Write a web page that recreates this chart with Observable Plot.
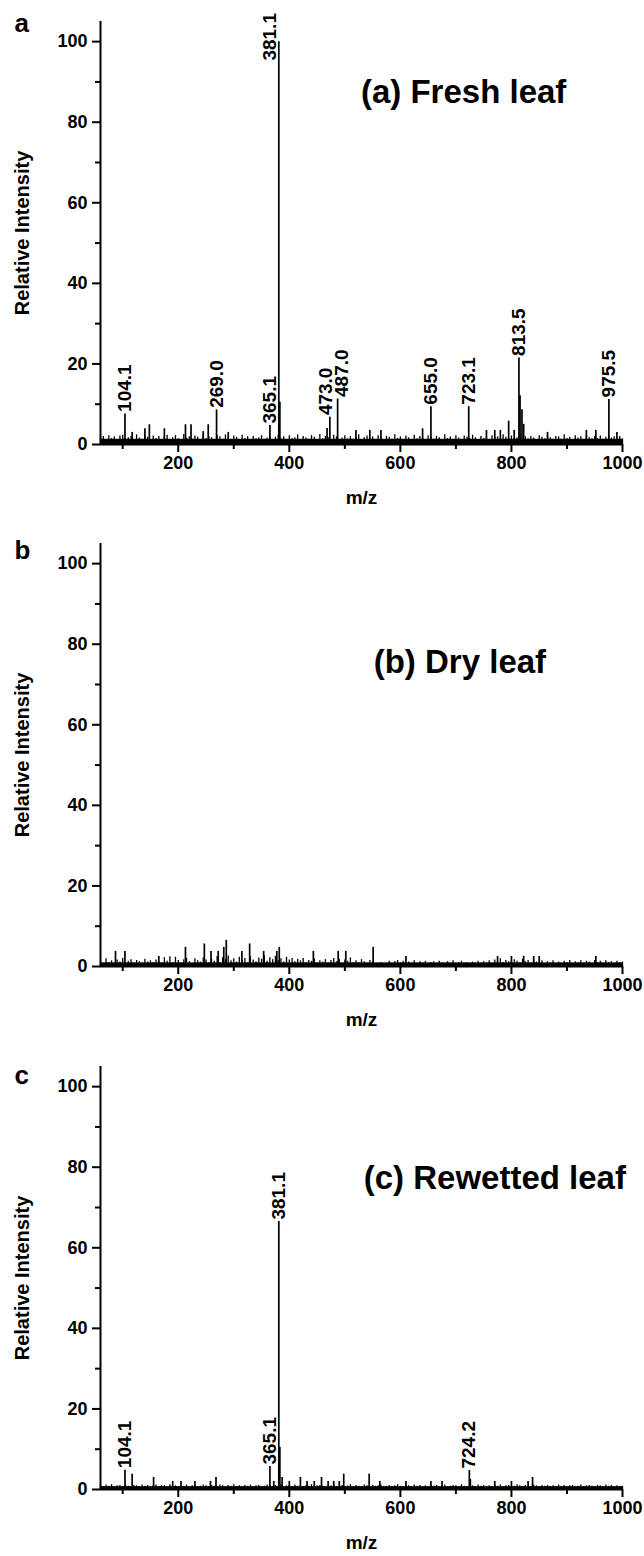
<!DOCTYPE html>
<html><head><meta charset="utf-8">
<script src="https://cdn.jsdelivr.net/npm/d3@7"></script>
<script src="https://cdn.jsdelivr.net/npm/@observablehq/plot@0.6"></script>
<style>
body{margin:0;background:#fff;}
#chart{width:644px;}
#chart svg{display:block;}
</style></head><body><div id="chart"></div>
<script>
const panelLetters = ["a", "b", "c"];
const panelTitles = ["(a) Fresh leaf", "(b) Dry leaf", "(c) Rewetted leaf"];
const xTicks = [200, 400, 600, 800, 1000];
const xMinorTicks = [100, 300, 500, 700, 900];
const yTicks = [0, 20, 40, 60, 80, 100];
const yMinorTicks = [10, 30, 50, 70, 90];

// baseline noise: m/z 60..1000, one value every 5 m/z
const noiseStart = 60, noiseStep = 5;
const noiseA = [
1.8,2.0,1.2,2.2,1.5,1.9,1.0,2.1,2.3,1.4,1.7,2.0,1.1,2.4,1.6,1.3,2.2,1.8,1.0,2.1,
1.5,2.0,1.2,1.9,2.3,1.1,1.7,2.2,1.4,1.0,2.5,1.6,1.9,1.3,2.1,1.8,1.2,2.4,1.5,2.0,
1.7,1.1,2.2,1.9,1.3,2.4,1.6,1.0,2.1,1.8,1.2,2.3,1.5,1.9,1.1,2.0,1.4,1.7,2.2,1.3,
1.6,2.1,1.0,1.8,2.3,1.4,1.9,1.2,2.2,1.5,1.7,2.4,1.1,2.0,1.6,1.3,2.2,1.8,1.0,2.5,
1.4,2.0,1.7,1.2,2.3,1.9,1.1,1.6,2.2,1.4,2.0,1.3,1.8,2.4,1.0,1.7,2.1,1.5,1.9,1.2,
2.2,1.6,1.1,2.0,1.8,1.3,2.4,1.5,1.9,1.0,2.1,1.7,1.2,2.3,1.4,2.0,1.6,1.1,2.2,1.8,
1.3,2.0,1.7,1.1,2.4,1.5,1.9,1.2,2.2,1.6,1.0,2.1,1.8,1.4,2.3,1.7,1.2,2.0,1.5,1.9,
1.1,2.2,1.6,1.9,1.3,2.4,1.8,1.0,2.1,1.5,1.7,2.3,1.2,1.9,1.4,2.0,1.6,1.1,2.2,1.8,
1.4,2.1,1.7,1.2,2.0,1.9,1.3,2.4,1.5,1.8,1.0,2.2,1.6,1.9,1.2,2.3,1.7,1.4,2.0,1.5,
2.1,1.3,1.8,2.2,1.6,1.9,1.2,2.0,1.4];
const noiseB = [
1.2,0.8,1.9,1.0,1.4,0.9,1.6,1.1,2.0,0.8,1.3,1.7,0.9,1.5,1.2,0.8,1.8,1.1,1.4,1.0,
1.6,1.2,0.9,2.2,1.3,2.4,1.0,2.3,1.5,0.9,1.7,2.0,1.2,0.8,1.9,1.4,1.1,2.1,1.6,0.9,
1.8,1.3,2.5,1.0,2.2,1.7,2.6,1.4,1.9,1.1,2.3,1.5,2.0,0.9,2.4,1.6,1.2,2.1,1.8,2.6,
1.3,2.2,1.7,2.5,1.4,1.9,1.1,2.3,1.6,2.0,1.2,1.8,1.4,2.0,1.0,1.5,1.3,1.9,0.9,1.4,
1.1,1.7,0.9,1.5,2.0,1.2,1.8,0.8,1.6,1.3,2.1,1.0,1.4,0.9,1.7,1.2,0.8,1.5,1.1,0.7,
0.6,1.0,0.5,0.8,1.3,0.7,1.2,1.5,0.9,1.3,0.6,1.1,0.8,1.4,0.7,1.2,0.9,1.3,0.6,1.0,
1.2,0.7,1.3,0.9,0.6,1.2,0.8,1.4,0.7,1.0,1.3,0.6,0.9,0.5,1.1,0.8,1.3,0.7,1.2,0.9,
1.4,0.8,1.6,1.1,1.9,1.0,1.5,1.2,0.9,1.7,1.3,1.0,1.8,1.2,1.5,0.9,1.6,1.1,0.8,1.4,
0.7,1.2,0.9,1.4,0.6,1.1,0.8,1.3,1.0,1.5,0.7,1.2,0.9,1.4,0.8,1.3,1.1,0.7,1.5,1.0,
1.3,0.8,1.4,1.0,1.2,0.7,1.3,0.9,1.1];
const noiseC = [
1.0,0.7,1.1,0.8,1.2,0.6,0.9,1.0,0.7,1.1,0.8,0.6,1.0,0.9,0.7,1.1,0.8,1.0,0.6,0.9,
1.1,0.7,0.9,1.0,0.6,1.2,0.8,0.9,0.7,1.0,0.8,1.1,0.6,0.9,1.0,0.7,0.8,1.1,0.9,0.6,
1.0,0.8,0.7,1.1,0.9,0.6,1.0,0.8,1.2,0.7,0.9,0.6,1.0,0.8,1.1,0.7,0.9,1.0,0.6,0.8,
1.1,0.9,0.7,1.0,0.8,1.2,0.6,0.9,1.0,0.7,1.1,0.8,0.9,0.6,1.0,0.8,1.2,0.7,0.9,1.0,
0.8,0.6,1.0,0.9,1.1,0.7,0.8,1.0,0.6,0.9,1.2,0.7,1.0,0.8,0.6,1.1,0.9,0.7,1.0,0.8,
0.9,1.1,0.6,0.8,1.0,0.7,0.9,1.2,0.8,0.6,1.0,0.9,0.7,1.1,0.8,1.0,0.6,0.9,0.7,1.0,
0.8,1.0,0.7,0.9,1.1,0.6,0.8,1.0,0.9,0.7,1.2,0.8,0.6,1.0,0.9,0.7,1.1,0.8,1.0,0.6,
0.9,0.7,1.0,0.8,1.1,0.6,0.9,1.0,0.7,0.8,1.2,0.9,0.6,1.0,0.8,0.7,1.1,0.9,0.6,1.0,
0.8,1.0,0.7,0.9,0.6,1.1,0.8,1.0,0.7,0.9,1.0,0.6,0.8,1.1,0.7,0.9,1.0,0.8,0.6,1.0,
0.9,0.7,1.1,0.8,1.0,0.6,0.9,0.7,0.8];
const bandLevels = [1.3, 0.9, 0.7];

// distinct peaks
const peaksAmz  = [104.1,117,140,148,175,213,223,245,254,269.0,290,365.1,381.1,383,468,473.0,487.0,520,545,565,640,655.0,723.1,755,770,780,795,805,813.5,815.5,819,822,865,935,952,975.5,990];
const peaksAint = [7.6,3.0,3.9,4.9,3.9,4.9,4.9,3.2,4.9,8.6,3.0,4.7,100,10.5,4.0,6.8,11.3,3.5,3.5,3.5,3.9,9.4,9.4,3.5,3.5,3.5,5.8,3.5,21.5,12.1,8.6,5.0,3.0,3.5,3.5,11.2,3.0];
const peaksBmz  = [87,104,165,213,247,259,272,282,286.5,314.6,328.6,353.8,377.5,381.9,443.3,488,501.7,551,610,775,800,822,840,850,952];
const peaksBint = [3.75,3.75,2.5,4.75,5.6,3.75,3.75,4.75,6.5,3.75,5.6,3.75,3.75,4.75,3.75,3.75,3.75,4.75,2.5,2.5,2.5,2.5,2.5,2.5,2.5];
const peaksCmz  = [104.1,117,155.6,190,205,230,258,268,365.1,372,381.1,383,387,400,420,432,445,458,470,480,490,498,543.8,563,610,655,675,724.2,726,770,800,830,838];
const peaksCint = [4.8,3.8,3.0,2.0,2.0,2.0,2.0,3.0,5.7,2.0,66.5,10.4,3.0,2.0,3.0,2.0,2.0,3.0,2.0,2.0,2.0,3.8,3.8,2.0,2.0,2.0,2.0,4.7,2.5,2.0,2.0,2.0,3.0];

// labelled peaks
const labelsAmz  = [104.1,269.0,365.1,381.1,473.0,487.0,655.0,723.1,813.5,975.5];
const labelsAint = [7.6,8.6,4.7,100,6.8,11.3,9.4,9.4,21.5,11.2];
const labelsBmz  = [];
const labelsBint = [];
const labelsCmz  = [104.1,365.1,381.1,724.2];
const labelsCint = [4.8,5.7,66.5,4.7];

const noiseSets = [noiseA, noiseB, noiseC];
const peakSets = [[peaksAmz, peaksAint], [peaksBmz, peaksBint], [peaksCmz, peaksCint]];
const labelSets = [[labelsAmz, labelsAint], [labelsBmz, labelsBint], [labelsCmz, labelsCint]];
const titlePos = [[529, 87.3], [552, 75.4], [534, 77.2]];
const letterDy = [10, 15, 17];
const heights = [522, 523, 511];
// pixel nudges for crowded labels (layout only)
const labelNudge = {"473.0": -4, "487.0": 4};

const FONT = "'Liberation Sans', Arial, Helvetica, sans-serif";
const chart = document.getElementById("chart");

panelLetters.forEach((letter, p) => {
  const noise = noiseSets[p].map((v, i) => ({mz: noiseStart + i * noiseStep, int: v}));
  const peaks = peakSets[p][0].map((mz, i) => ({mz, int: peakSets[p][1][i]}));
  const labels = labelSets[p][0].map((mz, i) => ({mz, int: labelSets[p][1][i], label: mz.toFixed(1)}));
  const normalLabels = labels.filter(d => d.int < 90 && !(p === 0 && labelNudge[d.label]));
  const nudged = labels.filter(d => d.int < 90 && p === 0 && labelNudge[d.label]);
  const topLabels = labels.filter(d => d.int >= 90);
  const h = heights[p];
  const labelStyle = {x: "mz", text: "label", rotate: -90, textAnchor: "start", lineAnchor: "middle", fontSize: 19, fontWeight: "bold"};
  const plot = Plot.plot({
    width: 644, height: h,
    marginLeft: 100, marginRight: 22, marginTop: 21, marginBottom: h - 444,
    style: {fontFamily: FONT, background: "white", color: "black", overflow: "visible"},
    x: {domain: [60, 1000]},
    y: {domain: [0, 105]},
    marks: [
      Plot.rectY([{x1: 60, x2: 1000, y: bandLevels[p]}], {x1: "x1", x2: "x2", y: "y", fill: "black"}),
      Plot.ruleX(noise, {x: "mz", y1: 0, y2: "int", stroke: "black", strokeWidth: 1.3}),
      Plot.ruleX(peaks, {x: "mz", y1: 0, y2: "int", stroke: "black", strokeWidth: 1.7}),
      Plot.ruleX([60], {stroke: "black", strokeWidth: 2}),
      Plot.ruleY([0], {stroke: "black", strokeWidth: 2.2}),
      Plot.axisX(xTicks, {anchor: "bottom", tickSize: 8, tickPadding: 4, tickFormat: d => String(d), fontSize: 18, fontWeight: "bold", strokeWidth: 2, label: null}),
      Plot.axisX(xMinorTicks, {anchor: "bottom", tickSize: 5, text: null, strokeWidth: 2, label: null}),
      Plot.axisY(yTicks, {anchor: "left", tickSize: 8, tickPadding: 5, tickFormat: d => String(d), fontSize: 18, fontWeight: "bold", strokeWidth: 2, label: null}),
      Plot.axisY(yMinorTicks, {anchor: "left", tickSize: 5, text: null, strokeWidth: 2, label: null}),
      Plot.text(normalLabels, {...labelStyle, y: "int", dy: -2}),
      ...nudged.map(d => Plot.text([d], {...labelStyle, y: "int", dy: -2, dx: labelNudge[d.label]})),
      Plot.text(topLabels, {...labelStyle, y: d => d.int - 4.7, dx: -9}),
      Plot.text([panelTitles[p]], {x: titlePos[p][0], y: titlePos[p][1], textAnchor: "start", lineAnchor: "middle", fontSize: 33, fontWeight: "bold"}),
      Plot.text(["Relative Intensity"], {frameAnchor: "left", rotate: -90, dx: -78, textAnchor: "middle", lineAnchor: "middle", fontSize: 20, fontWeight: "bold"}),
      Plot.text(["m/z"], {frameAnchor: "bottom", dy: 53, textAnchor: "middle", lineAnchor: "middle", fontSize: 19, fontWeight: "bold"}),
      Plot.text([letter], {frameAnchor: "top-left", dx: -86, dy: letterDy[p], textAnchor: "start", lineAnchor: "bottom", fontSize: 26, fontWeight: "bold"})
    ]
  });
  chart.appendChild(plot);
});
</script>
</body></html>
